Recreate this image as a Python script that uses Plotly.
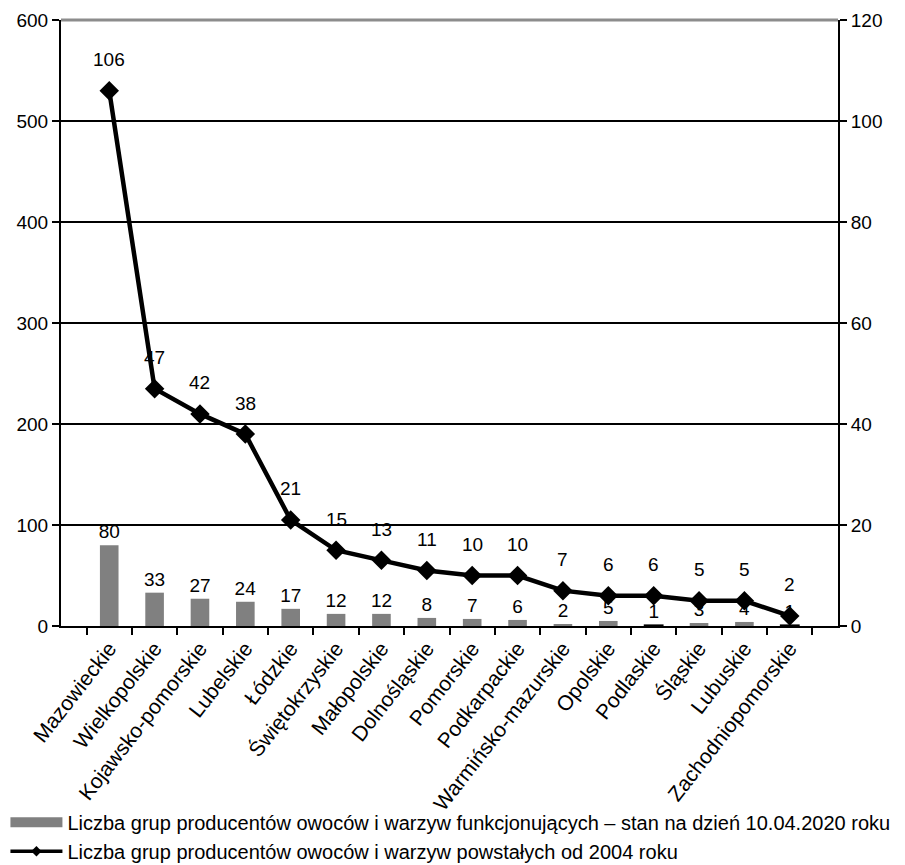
import plotly.graph_objects as go

regions = [
    "Mazowieckie", "Wielkopolskie", "Kojawsko-pomorskie", "Lubelskie", "Łódzkie",
    "Świętokrzyskie", "Małopolskie", "Dolnośląskie", "Pomorskie", "Podkarpackie",
    "Warmińsko-mazurskie", "Opolskie", "Podlaskie", "Śląskie", "Lubuskie",
    "Zachodniopomorskie",
]
functioning_2020 = [80, 33, 27, 24, 17, 12, 12, 8, 7, 6, 2, 5, 1, 3, 4, 1]
founded_since_2004 = [106, 47, 42, 38, 21, 15, 13, 11, 10, 10, 7, 6, 6, 5, 5, 2]

bar_name = "Liczba grup producentów owoców i warzyw funkcjonujących – stan na dzień 10.04.2020 roku"
line_name = "Liczba grup producentów owoców i warzyw powstałych od 2004 roku"

FONT = "Liberation Sans, Arial, sans-serif"
GRAY = "#808080"

# very low bars get a dark outline so they stay visible on the axis
bar_line_w = [1.2 if v <= 1 else 0 for v in functioning_2020]
bar_fill = ["#000000" if v <= 1 else GRAY for v in functioning_2020]

fig = go.Figure()

fig.add_trace(go.Bar(
    x=regions, y=functioning_2020, name=bar_name, showlegend=False,
    marker=dict(color=bar_fill, line=dict(color="#000000", width=bar_line_w)),
    width=0.41,
    text=[str(v) for v in functioning_2020], textposition="outside",
    constraintext="none",
    textfont=dict(size=19, color="#000000", family=FONT),
    cliponaxis=False, yaxis="y",
))

fig.add_trace(go.Scatter(
    x=regions, y=founded_since_2004, name=line_name, mode="lines+markers",
    line=dict(color="#000000", width=4.5), showlegend=False,
    marker=dict(symbol="diamond", size=15, color="#000000"),
    yaxis="y2", cliponaxis=False,
))

# legend swatches: wide grey block for the bars, slim line with small diamond
fig.add_trace(go.Scatter(
    x=[None], y=[None], name=bar_name, mode="lines",
    line=dict(color=GRAY, width=15), yaxis="y",
))
fig.add_trace(go.Scatter(
    x=[None], y=[None], name=line_name, mode="lines+markers",
    line=dict(color="#000000", width=3.5),
    marker=dict(symbol="diamond", size=8, color="#000000"), yaxis="y2",
))

# value labels above the line points
for r, v in zip(regions, founded_since_2004):
    fig.add_annotation(x=r, y=v, xref="x", yref="y2", text=str(v),
                       showarrow=False, yanchor="middle", yshift=31,
                       font=dict(size=19, color="#000000", family=FONT))

# grey top border of the plot area
fig.add_shape(type="line", xref="paper", yref="paper", x0=0, x1=1, y0=1, y1=1,
              line=dict(color="#8c8c8c", width=3), layer="above")

fig.update_layout(
    width=905, height=865,
    margin=dict(l=61, r=67, t=20, b=239, autoexpand=False),
    plot_bgcolor="#ffffff", paper_bgcolor="#ffffff",
    font=dict(family=FONT, size=18, color="#000000"),
    showlegend=True,
    legend=dict(xref="container", yref="container", x=0.006, y=0.072,
                xanchor="left", yanchor="top", orientation="v",
                font=dict(size=20, family=FONT),
                tracegroupgap=0, itemwidth=52, bgcolor="rgba(0,0,0,0)"),
    xaxis=dict(
        type="category", tickangle=-52, tickson="boundaries",
        ticks="outside", ticklen=7, tickcolor="#000000", tickwidth=2,
        showline=True, linecolor="#000000", linewidth=2,
        tickfont=dict(size=21, family=FONT), showgrid=False, automargin=False,
    ),
    yaxis=dict(
        range=[0, 600], dtick=100, ticks="outside", ticklen=7,
        tickcolor="#000000", tickwidth=2,
        showline=True, linecolor="#000000", linewidth=2,
        showgrid=True, gridcolor="#000000", gridwidth=1.5,
        zeroline=False, tickfont=dict(size=19, family=FONT), automargin=False,
    ),
    yaxis2=dict(
        range=[0, 120], dtick=20, overlaying="y", side="right",
        ticks="outside", ticklen=7, tickcolor="#000000", tickwidth=2,
        showline=True, linecolor="#000000", linewidth=2,
        showgrid=False, zeroline=False, tickfont=dict(size=19, family=FONT),
        automargin=False,
    ),
)

fig.write_html("out.html")
